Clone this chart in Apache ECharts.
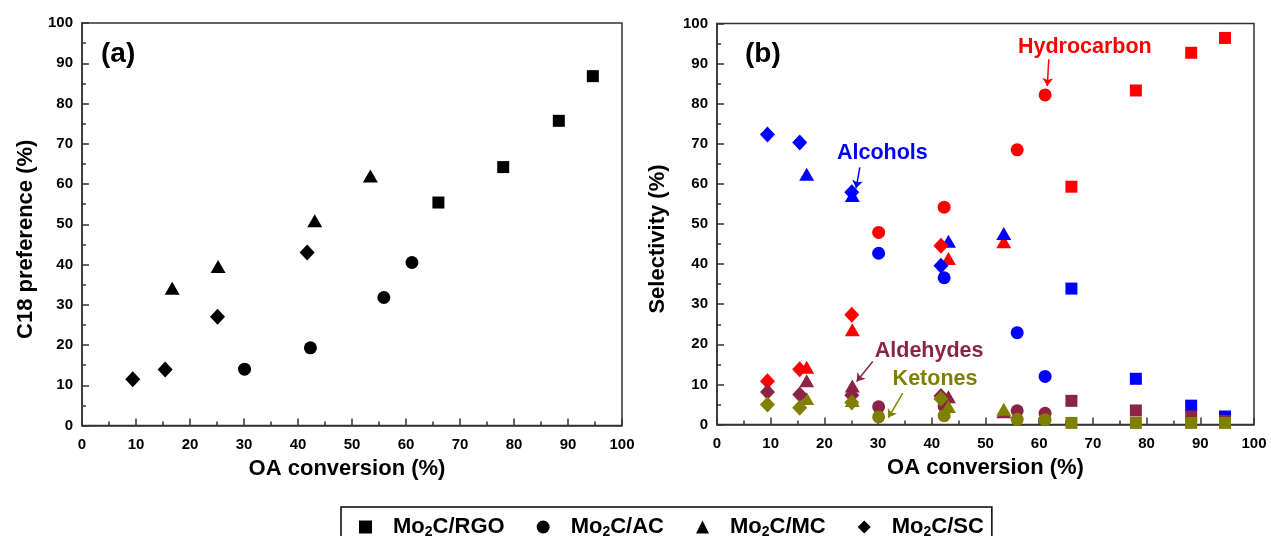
<!DOCTYPE html>
<html>
<head>
<meta charset="utf-8">
<script src="https://cdn.jsdelivr.net/npm/echarts@6/dist/echarts.min.js"></script>
<style>html,body{margin:0;padding:0;background:#fff;}#c{width:1271px;height:536px;}</style>
</head>
<body>
<div id="c"></div>
<script>
// ---- data ----
const catalysts = ['Mo2C/RGO', 'Mo2C/AC', 'Mo2C/MC', 'Mo2C/SC'];
const symbols = ['rect', 'circle', 'triangle', 'diamond'];

// OA conversion (%) per catalyst
const xRGO = [66.0, 78.0, 88.3, 94.6];
const xAC  = [30.1, 42.3, 55.9, 61.1];
const xMC  = [16.7, 25.2, 43.1, 53.4];
const xSC  = [9.4, 15.4, 25.1, 41.7];

// (a) C18 preference (%)
const c18RGO = [55.4, 64.2, 75.7, 86.8];
const c18AC  = [14.0, 19.3, 31.8, 40.5];
const c18MC  = [34.1, 39.5, 50.9, 62.0];
const c18SC  = [11.5, 13.9, 27.0, 43.0];

// (b) Selectivity (%)
const hydroRGO = [59.3, 83.3, 92.7, 96.4];
const hydroAC  = [47.9, 54.2, 68.5, 82.2];
const hydroMC  = [14.3, 23.6, 41.4, 45.6];
const hydroSC  = [10.8, 13.8, 27.4, 44.6];

const alcRGO = [33.9, 11.4, 4.7, 2.0];
const alcAC  = [42.7, 36.6, 22.9, 12.0];
const alcMC  = [62.4, 57.1, 45.7, 47.6];
const alcSC  = [72.3, 70.3, 57.9, 39.6];

const aldRGO = [5.9, 3.5, 2.0, 0.9];
const aldAC  = [4.4, 4.5, 3.4, 2.8];
const aldMC  = [10.9, 9.6, 6.9, 3.2];
const aldSC  = [8.1, 7.5, 7.3, 7.1];

const ketRGO = [0.4, 0.4, 0.4, 0.4];
const ketAC  = [1.9, 2.2, 1.3, 1.2];
const ketMC  = [6.5, 6.0, 4.5, 3.8];
const ketSC  = [5.0, 4.2, 5.5, 6.4];

// annotations in panel (b), data units
const annoLabels = ['Hydrocarbon', 'Alcohols', 'Aldehydes', 'Ketones'];
const annoTextX = [68.5, 30.8, 39.5, 40.6];
const annoTextY = [94.1, 67.8, 18.3, 11.3];
const arrowFromX = [61.8, 26.6, 29.0, 34.6];
const arrowFromY = [91.1, 64.1, 15.7, 7.8];
const arrowToX = [61.5, 25.9, 26.0, 31.9];
const arrowToY = [84.4, 58.9, 10.7, 1.7];

const tickValues = [0, 10, 20, 30, 40, 50, 60, 70, 80, 90, 100];

// ---- styling ----
const FONT = "'Liberation Sans', Arial, Helvetica, sans-serif";
const productColors = ['#FF0000', '#0000FF', '#8B2346', '#808000'];
const symbolSizes = [12, 13, [15, 13], [15, 16]];

const xs = [xRGO, xAC, xMC, xSC];
const c18 = [c18RGO, c18AC, c18MC, c18SC];
const products = [
  [hydroRGO, hydroAC, hydroMC, hydroSC],
  [alcRGO, alcAC, alcMC, alcSC],
  [aldRGO, aldAC, aldMC, aldSC],
  [ketRGO, ketAC, ketMC, ketSC]
];

function zip(a, b) { return a.map((v, i) => [v, b[i]]); }

function makeAxis(gridIndex, isX, name, nameGap, namePad) {
  return {
    type: 'value', gridIndex: gridIndex, min: 0, max: 100, interval: 10,
    name: name, nameLocation: 'middle', nameGap: nameGap,
    nameTextStyle: { fontFamily: FONT, fontWeight: 'bold', fontSize: 22, color: '#000', padding: namePad },
    axisLine: { show: true, onZero: false, lineStyle: { color: '#333', width: 1.5 } },
    axisTick: { show: true, inside: true, length: 7, lineStyle: { color: '#333', width: 1.5 } },
    minorTick: { show: true, splitNumber: 2, length: 4, lineStyle: { color: '#333', width: 1.5 } },
    axisLabel: {
      fontFamily: FONT, fontWeight: 'bold', fontSize: 15, color: '#000', margin: isX ? 12 : 9,
      formatter: v => tickValues.indexOf(v) >= 0 ? String(v) : ''
    },
    splitLine: { show: false }
  };
}

const series = [];
// panel (a)
catalysts.forEach((c, i) => {
  series.push({
    name: c, type: 'scatter', xAxisIndex: 0, yAxisIndex: 0,
    symbol: symbols[i], symbolSize: symbolSizes[i],
    itemStyle: { color: '#000', opacity: 1 },
    data: zip(xs[i], c18[i]), silent: true
  });
});
// panel (b)
catalysts.forEach((c, i) => {
  products.forEach((p, j) => {
    series.push({
      name: 'b-' + j + '-' + c, type: 'scatter', xAxisIndex: 1, yAxisIndex: 1,
      symbol: symbols[i], symbolSize: symbolSizes[i],
      itemStyle: { color: productColors[j], opacity: 1 },
      data: zip(xs[i], p[i]), silent: true
    });
  });
});
// annotations
series.push({
  name: 'annotations', type: 'scatter', xAxisIndex: 1, yAxisIndex: 1, data: [], silent: true,
  markPoint: {
    symbol: 'circle', symbolSize: 0, silent: true,
    data: annoLabels.map((t, k) => ({
      coord: [annoTextX[k], annoTextY[k]],
      label: { show: true, formatter: t, position: 'inside', color: productColors[k],
        fontFamily: FONT, fontWeight: 'bold', fontSize: 21.5 }
    }))
  },
  markLine: {
    silent: true, symbol: ['none', 'arrow'], symbolSize: 8,
    label: { show: false },
    data: annoLabels.map((t, k) => [
      { coord: [arrowFromX[k], arrowFromY[k]], lineStyle: { color: productColors[k], width: 1.5, type: 'solid' } },
      { coord: [arrowToX[k], arrowToY[k]] }
    ])
  }
});

const option = {
  animation: false,
  backgroundColor: '#fff',
  title: [
    { text: '(a)', left: 96, top: 35, textStyle: { fontFamily: FONT, fontWeight: 'bold', fontSize: 28, color: '#000' } },
    { text: '(b)', left: 740, top: 35, textStyle: { fontFamily: FONT, fontWeight: 'bold', fontSize: 28, color: '#000' } }
  ],
  grid: [
    { left: 82, top: 23, width: 540, height: 402.5, show: true, borderColor: '#333', borderWidth: 1.5, backgroundColor: 'transparent' },
    { left: 717, top: 23.5, width: 537, height: 401, show: true, borderColor: '#333', borderWidth: 1.5, backgroundColor: 'transparent' }
  ],
  xAxis: [
    makeAxis(0, true, 'OA conversion (%)', 32, [0, 10, 0, 0]),
    makeAxis(1, true, 'OA conversion (%)', 32, [0, 0, 0, 0])
  ],
  yAxis: [
    makeAxis(0, false, 'C18 preference (%)', 45, [0, 30, 0, 0]),
    makeAxis(1, false, 'Selectivity (%)', 48, [0, 30, 0, 0])
  ],
  legend: {
    data: catalysts,
    left: 341, top: 507,
    orient: 'horizontal',
    itemWidth: 13, itemHeight: 13, itemGap: 32,
    padding: [9, 8, 20, 18],
    borderColor: '#000', borderWidth: 1.5,
    selectedMode: false,
    textStyle: {
      fontFamily: FONT, fontWeight: 'bold', fontSize: 22, color: '#000',
      rich: {
        g: { width: 16 },
        m: { fontFamily: FONT, fontWeight: 'bold', fontSize: 22, color: '#000', lineHeight: 24 },
        s: { fontFamily: FONT, fontWeight: 'bold', fontSize: 14, color: '#000', lineHeight: 24, verticalAlign: 'bottom' }
      }
    },
    formatter: name => '{g|}{m|Mo}{s|2}{m|' + name.slice(3) + '}'
  },
  series: series
};

const chart = echarts.init(document.getElementById('c'), null, { renderer: 'canvas' });
chart.setOption(option);
</script>
</body>
</html>
